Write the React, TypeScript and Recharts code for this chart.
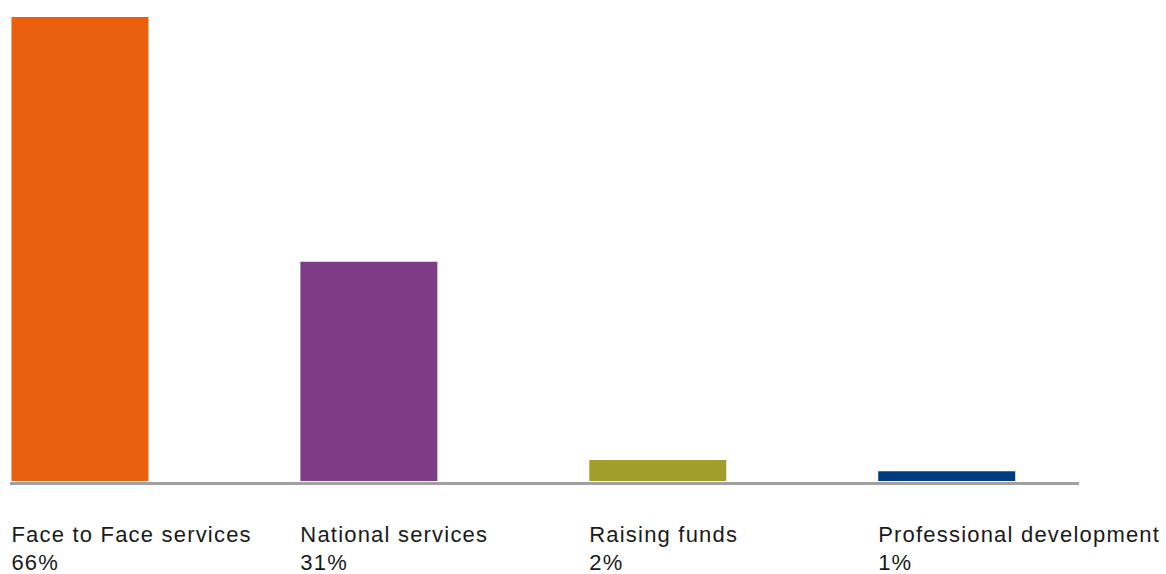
import { BarChart, Bar, XAxis, YAxis, Cell } from "recharts";

// bar heights (percent of spend)
const categories = [
  "Face to Face services",
  "National services",
  "Raising funds",
  "Professional development",
];
const values = [66, 31.2, 3.0, 1.4];
const percentLabels = ["66%", "31%", "2%", "1%"];
const colors = ["#E9600F", "#7E3B86", "#A19E2A", "#003B82"];

const data = categories.map((name, i) => ({
  idx: i,
  name,
  value: values[i],
  pct: percentLabels[i],
}));

const BAR_W = 137;

function CategoryTick(props: any) {
  const { x, y, payload } = props;
  const i = payload.value as number;
  const left = x - BAR_W / 2;
  return (
    <g>
      <text
        x={left}
        y={y}
        fill="#1a1a1a"
        fontSize={22}
        letterSpacing={1.2}
        fontFamily="'Liberation Sans', Arial, sans-serif"
      >
        <tspan x={left} dy={50}>
          {categories[i]}
        </tspan>
        <tspan x={left} dy={28.5}>
          {percentLabels[i]}
        </tspan>
      </text>
    </g>
  );
}

export default function App() {
  return (
    <div style={{ position: "absolute", left: 0, top: 0, background: "#fff" }}>
      <BarChart
        width={1166}
        height={574}
        data={data}
        margin={{ top: 17, right: 87, bottom: 0, left: 10 }}
      >
        <XAxis
          dataKey="idx"
          type="number"
          domain={[-0.242, 3.458]}
          ticks={[0, 1, 2, 3]}
          allowDataOverflow
          tick={<CategoryTick />}
          tickLine={false}
          axisLine={{ stroke: "#a0a0a0", strokeWidth: 3 }}
          height={90.5}
          interval={0}
        />
        <YAxis hide domain={[-0.356, 66]} allowDataOverflow />
        <Bar dataKey="value" barSize={BAR_W} isAnimationActive={false}>
          {data.map((_, i) => (
            <Cell key={i} fill={colors[i]} />
          ))}
        </Bar>
      </BarChart>
    </div>
  );
}
